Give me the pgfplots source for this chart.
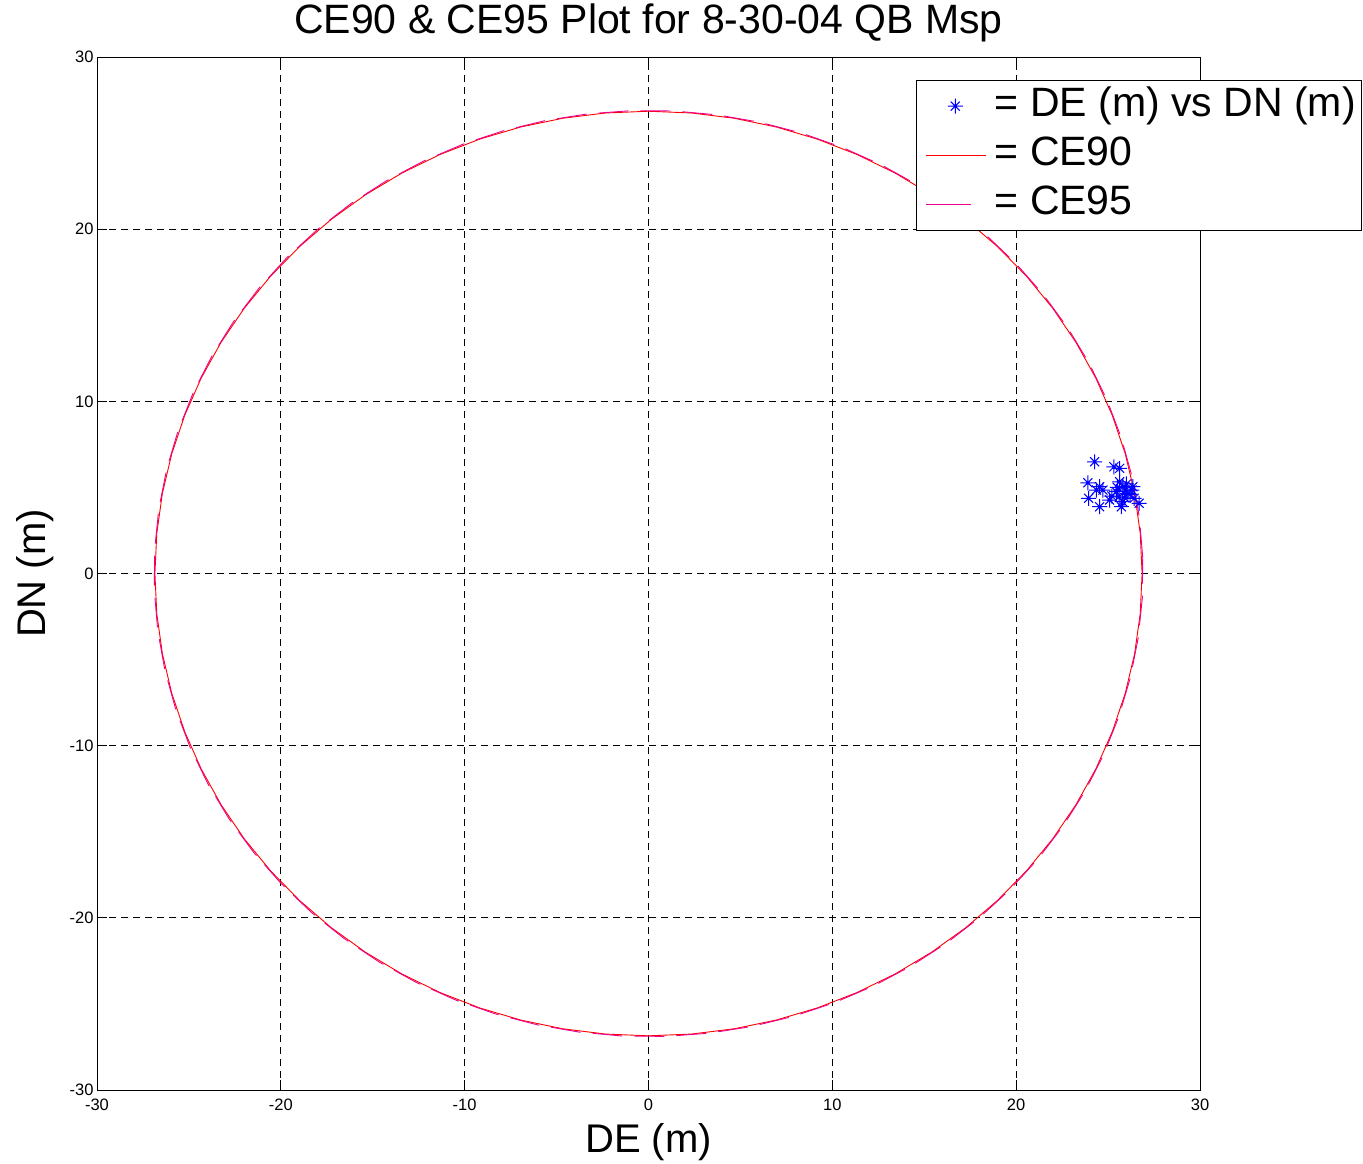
\documentclass[border=0pt]{standalone}
\usepackage{pgfplots}
\pgfplotsset{compat=1.18}
\usepackage{fontspec}
\setmainfont{Liberation Sans}
\pgfdeclareplotmark{matstar}{%
  \pgfpathmoveto{\pgfqpoint{-\pgfplotmarksize}{0pt}}\pgfpathlineto{\pgfqpoint{\pgfplotmarksize}{0pt}}%
  \pgfpathmoveto{\pgfqpoint{0pt}{-\pgfplotmarksize}}\pgfpathlineto{\pgfqpoint{0pt}{\pgfplotmarksize}}%
  \pgfpathmoveto{\pgfqpoint{-0.6\pgfplotmarksize}{-0.6\pgfplotmarksize}}\pgfpathlineto{\pgfqpoint{0.6\pgfplotmarksize}{0.6\pgfplotmarksize}}%
  \pgfpathmoveto{\pgfqpoint{-0.6\pgfplotmarksize}{0.6\pgfplotmarksize}}\pgfpathlineto{\pgfqpoint{0.6\pgfplotmarksize}{-0.6\pgfplotmarksize}}%
  \pgfusepathqstroke}
\pgfplotsset{
  markleg/.style={legend image code/.code={\draw[##1] plot coordinates {(35pt,0pt)}; \path (0pt,0pt) (71pt,0pt);}},
  lineleg/.style={legend image code/.code={\draw[##1, solid] (6pt,0pt) -- (#1,0pt); \path (0pt,0pt) (71pt,0pt);}},
}
\begin{document}
\begin{tikzpicture}
\begin{axis}[
  name=ax,
  scale only axis,
  width=1103pt, height=1033pt,
  xmin=-30, xmax=30, ymin=-30, ymax=30,
  xtick={-30,-20,...,30}, ytick={-30,-20,...,30},
  /pgf/number format/assume math mode=true,
  ticklabel style={font=\fontsize{16.5}{19}\selectfont},
  xticklabel style={yshift=-5pt},
  tick align=inside, major tick length=10pt,
  tick style={black, line width=0.8pt},
  axis line style={black, line width=0.8pt},
  grid=major,
  major grid style={black, line width=0.8pt, dash pattern=on 7pt off 5pt},
  title={CE90 \& CE95 Plot for 8-30-04 QB Msp},
  title style={font=\fontsize{41}{44}\selectfont, at={(axis description cs:0.5,1)}, anchor=base, yshift=17pt},
  xlabel={DE (m)}, ylabel={DN (m)},
  label style={font=\fontsize{40}{44}\selectfont},
  xlabel style={at={(axis description cs:0.5,0)}, anchor=base, yshift=-62pt},
  ylabel style={at={(axis description cs:-0.0471,0.5)}, anchor=base},
  legend cell align=left,
  legend style={at={(1.147,0.978)}, anchor=north east, draw=black, line width=0.8pt,
     fill=white, font=\fontsize{41}{44}\selectfont, row sep=3pt, inner xsep=3pt, inner ysep=3pt,
     nodes={inner sep=3pt, text height=30pt, text depth=10pt}},
]
\addplot[blue, only marks, mark=matstar, mark size=7.5pt, mark options={line width=1pt}, markleg]
coordinates {
(24.27,6.49) (25.32,6.20) (25.63,6.11) (23.90,5.27) (24.54,5.04) (24.72,4.85)
(25.63,5.33) (25.81,5.04) (26.35,5.04) (26.08,4.66) (23.94,4.37) (25.08,4.27)
(24.54,3.88) (25.79,4.17) (25.72,3.88) (26.42,4.37) (26.69,4.08) (24.36,4.85)
(25.45,4.75) (25.90,4.40) (26.20,4.60) (25.50,5.00) (26.00,5.20) (25.20,4.50)
(25.95,4.85) (26.30,4.85) (25.60,4.45)
};
\addlegendentry{= DE (m) vs DN (m)}
\addplot[red, line width=0.9pt, data cs=polar, lineleg=66pt]
coordinates {
(0,26.85) (5,26.85) (10,26.85) (15,26.85) (20,26.85) (25,26.85) (30,26.85) (35,26.85)
(40,26.85) (45,26.85) (50,26.85) (55,26.85) (60,26.85) (65,26.85) (70,26.85) (75,26.85)
(80,26.85) (85,26.85) (90,26.85) (95,26.85) (100,26.85) (105,26.85) (110,26.85) (115,26.85)
(120,26.85) (125,26.85) (130,26.85) (135,26.85) (140,26.85) (145,26.85) (150,26.85) (155,26.85)
(160,26.85) (165,26.85) (170,26.85) (175,26.85) (180,26.85) (185,26.85) (190,26.85) (195,26.85)
(200,26.85) (205,26.85) (210,26.85) (215,26.85) (220,26.85) (225,26.85) (230,26.85) (235,26.85)
(240,26.85) (245,26.85) (250,26.85) (255,26.85) (260,26.85) (265,26.85) (270,26.85) (275,26.85)
(280,26.85) (285,26.85) (290,26.85) (295,26.85) (300,26.85) (305,26.85) (310,26.85) (315,26.85)
(320,26.85) (325,26.85) (330,26.85) (335,26.85) (340,26.85) (345,26.85) (350,26.85) (355,26.85)
(360,26.85)
};
\addlegendentry{= CE90}
\addplot[magenta, line width=0.9pt, data cs=polar, lineleg=51pt, dash pattern=on 30pt off 12pt]
coordinates {
(2,26.9) (7,26.9) (12,26.9) (17,26.9) (22,26.9) (27,26.9) (32,26.9) (37,26.9)
(42,26.9) (47,26.9) (52,26.9) (57,26.9) (62,26.9) (67,26.9) (72,26.9) (77,26.9)
(82,26.9) (87,26.9) (92,26.9) (97,26.9) (102,26.9) (107,26.9) (112,26.9) (117,26.9)
(122,26.9) (127,26.9) (132,26.9) (137,26.9) (142,26.9) (147,26.9) (152,26.9) (157,26.9)
(162,26.9) (167,26.9) (172,26.9) (177,26.9) (182,26.9) (187,26.9) (192,26.9) (197,26.9)
(202,26.9) (207,26.9) (212,26.9) (217,26.9) (222,26.9) (227,26.9) (232,26.9) (237,26.9)
(242,26.9) (247,26.9) (252,26.9) (257,26.9) (262,26.9) (267,26.9) (272,26.9) (277,26.9)
(282,26.9) (287,26.9) (292,26.9) (297,26.9) (302,26.9) (307,26.9) (312,26.9) (317,26.9)
(322,26.9) (327,26.9) (332,26.9) (337,26.9) (342,26.9) (347,26.9) (352,26.9) (357,26.9)
(362,26.9)
};
\addlegendentry{= CE95}
\end{axis}
\path (ax.south west) +(-97pt,-69pt) (ax.north east) +(163pt,57pt);
\end{tikzpicture}
\end{document}
